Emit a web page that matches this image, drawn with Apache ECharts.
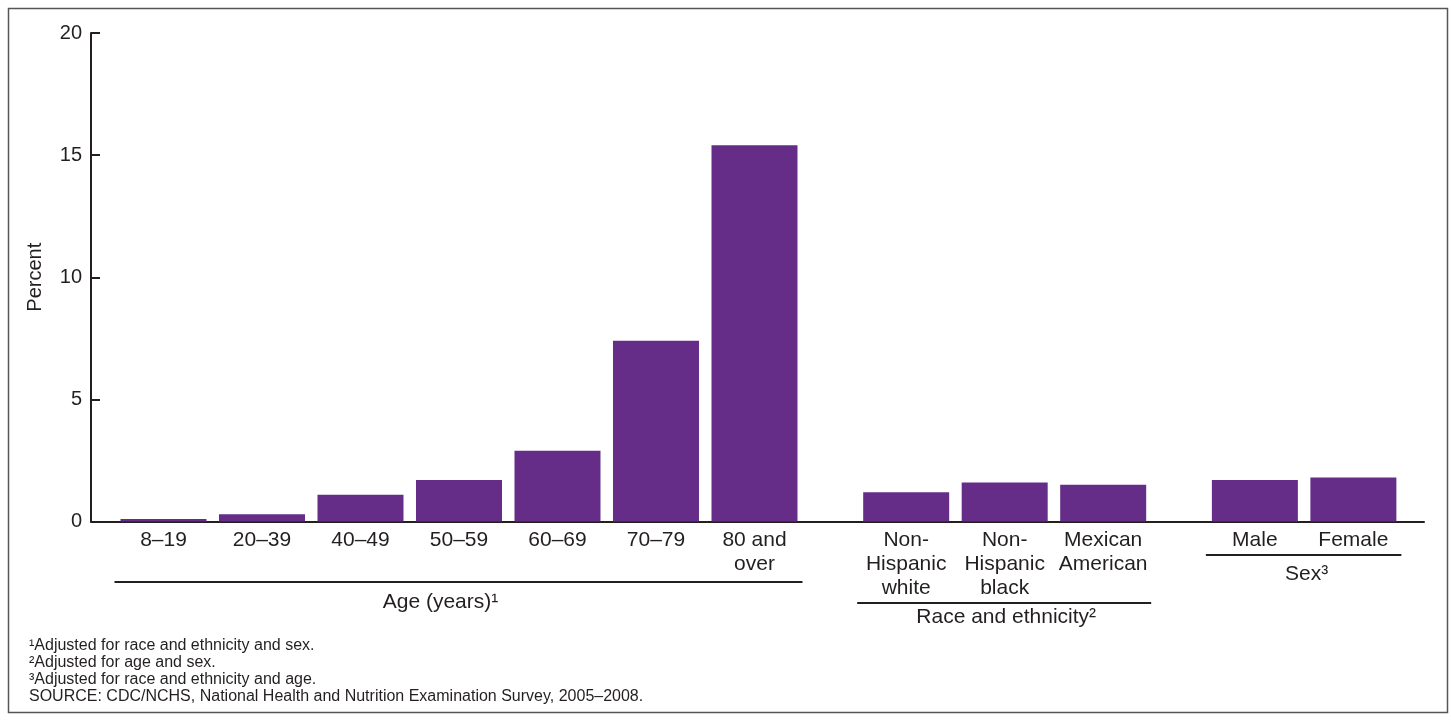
<!DOCTYPE html>
<html>
<head>
<meta charset="utf-8">
<script src="https://cdn.jsdelivr.net/npm/echarts@6/dist/echarts.min.js"></script>
<style>
html,body{margin:0;padding:0;background:#fff;}
#main{width:1451px;height:721px;}
</style>
</head>
<body>
<div id="main"></div>
<script>
// ---------- data ----------
const ageCats  = ['8–19', '20–39', '40–49', '50–59', '60–69', '70–79', '80 and\nover'];
const ageVals  = [0.1, 0.3, 1.1, 1.7, 2.9, 7.4, 15.4];
const raceCats = ['Non-\nHispanic\nwhite', 'Non-\nHispanic\nblack', 'Mexican\nAmerican'];
const raceVals = [1.2, 1.6, 1.5];
const sexCats  = ['Male', 'Female'];
const sexVals  = [1.7, 1.8];
const groupNames = ['Age (years)¹', 'Race and ethnicity²', 'Sex³'];
const yTicks = [0, 5, 10, 15, 20];
const footnotes = [
  '¹Adjusted for race and ethnicity and sex.',
  '²Adjusted for age and sex.',
  '³Adjusted for race and ethnicity and age.',
  'SOURCE: CDC/NCHS, National Health and Nutrition Examination Survey, 2005–2008.'
];

// ---------- layout ----------
const FONT = '"Liberation Sans", Arial, Helvetica, sans-serif';
const INK = '#231f20';
const BAR = '#652d88';
const GROUP_GAP = 1.54;      // extra slot width between groups
const BAR_W = 86;
const groupsData = [
  {cats: ageCats, vals: ageVals},
  {cats: raceCats, vals: raceVals},
  {cats: sexCats, vals: sexVals}
];
const groupLineY  = [582, 603, 555];
const groupLabelY = [602, 617, 574];
const groupLabelDx = [-18, 2, 3];

// slot positions along the x value axis
const barData = [];
const labelData = [];
const groupRanges = [];
let pos = 0;
groupsData.forEach((g, gi) => {
  if (gi > 0) pos += GROUP_GAP - 1;
  const start = pos;
  g.cats.forEach((c, i) => {
    barData.push([pos, g.vals[i]]);
    labelData.push({value: [pos, 0], name: c});
    pos += 1;
  });
  groupRanges.push([start, pos - 1]);
});

const chart = echarts.init(document.getElementById('main'), null, {renderer: 'canvas'});

const option = {
  animation: false,
  backgroundColor: '#fff',
  textStyle: {fontFamily: FONT, color: INK},
  grid: {left: 91, right: 27, top: 33, bottom: 199.5, containLabel: false},
  xAxis: {
    type: 'value',
    min: -0.736,
    max: 12.797,
    axisLine: {show: true, onZero: false, lineStyle: {color: INK, width: 2}},
    axisTick: {show: false},
    axisLabel: {show: false},
    splitLine: {show: false}
  },
  yAxis: {
    type: 'value',
    min: yTicks[0],
    max: yTicks[yTicks.length - 1],
    interval: yTicks[1] - yTicks[0],
    name: 'Percent',
    nameLocation: 'middle',
    nameGap: 46,
    nameRotate: 90,
    nameTextStyle: {fontSize: 20, color: INK, fontFamily: FONT},
    axisLine: {show: true, onZero: false, lineStyle: {color: INK, width: 2}},
    axisTick: {show: true, inside: true, length: 9, lineStyle: {color: INK, width: 2}},
    axisLabel: {fontSize: 20, color: INK, margin: 9, fontFamily: FONT},
    splitLine: {show: false}
  },
  series: [
    {
      type: 'bar',
      data: barData,
      barWidth: BAR_W,
      itemStyle: {color: BAR},
      z: 1
    },
    {
      type: 'scatter',
      data: labelData,
      symbolSize: 0,
      clip: false,
      silent: true,
      itemStyle: {opacity: 1},
      label: {
        show: true,
        position: 'bottom',
        distance: 6.5,
        formatter: p => p.name,
        fontSize: 21,
        lineHeight: 24,
        color: INK,
        opacity: 1,
        fontFamily: FONT,
        align: 'center'
      },
      z: 3
    }
  ]
};
chart.setOption(option);

// group underlines and titles, footnotes, frame
const graphics = [];
groupRanges.forEach((r, gi) => {
  const x0 = chart.convertToPixel({xAxisIndex: 0}, r[0]) - BAR_W / 2 - 6;
  const x1 = chart.convertToPixel({xAxisIndex: 0}, r[1]) + BAR_W / 2 + 5;
  graphics.push({
    type: 'line',
    shape: {x1: x0, y1: groupLineY[gi], x2: x1, y2: groupLineY[gi]},
    style: {stroke: INK, lineWidth: 2}
  });
  graphics.push({
    type: 'text',
    x: (x0 + x1) / 2 + groupLabelDx[gi],
    y: groupLabelY[gi],
    style: {
      text: groupNames[gi], fontSize: 21, fontFamily: FONT, fill: INK,
      align: 'center', verticalAlign: 'middle'
    }
  });
});
footnotes.forEach((t, i) => {
  graphics.push({
    type: 'text',
    x: 29,
    y: 646 + i * 16.7,
    style: {text: t, fontSize: 16, fontFamily: FONT, fill: INK, align: 'left', verticalAlign: 'middle'}
  });
});
graphics.push({
  type: 'rect',
  shape: {x: 8.5, y: 8.5, width: 1439, height: 704},
  style: {fill: 'none', stroke: '#555', lineWidth: 1.5},
  silent: true
});
chart.setOption({graphic: graphics});
</script>
</body>
</html>
